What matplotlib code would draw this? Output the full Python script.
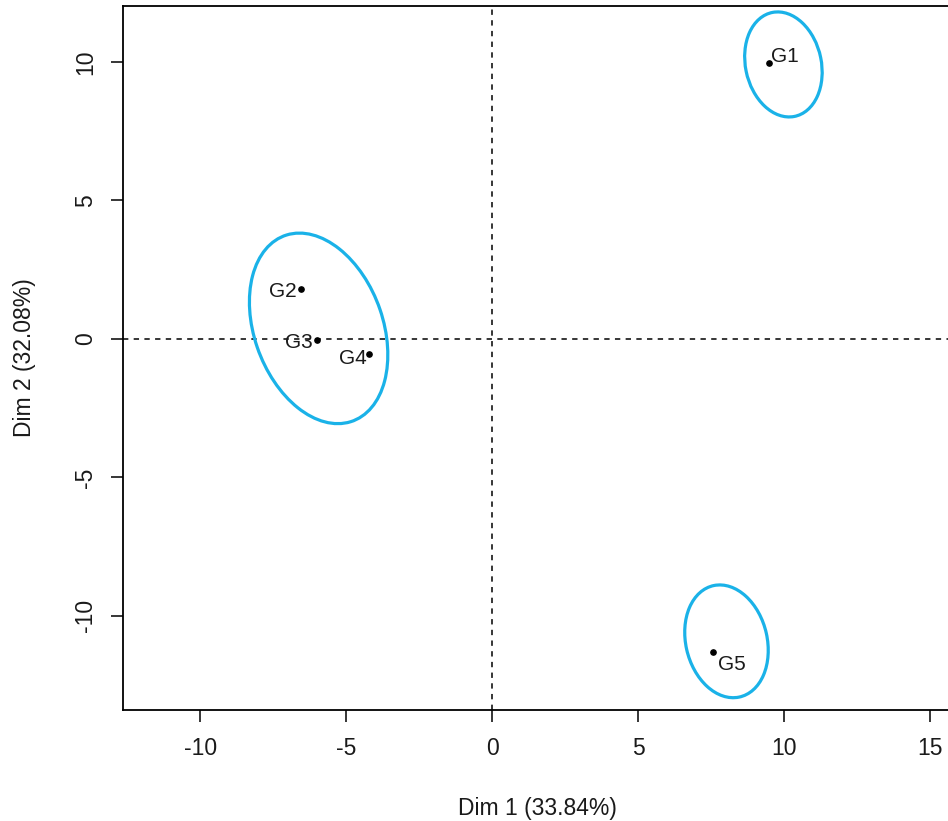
import numpy as np
import matplotlib
matplotlib.use('Agg')
import matplotlib.pyplot as plt
from matplotlib.patches import Ellipse

plt.rcParams['font.family'] = ['Liberation Sans', 'DejaVu Sans']
plt.rcParams['axes.unicode_minus'] = False

# individuals (Dim 1, Dim 2)
labels = ['G1', 'G2', 'G3', 'G4', 'G5']
dim1 = [9.49, -6.54, -5.99, -4.21, 7.57]
dim2 = [9.96, 1.81, -0.04, -0.54, -11.3]

# confidence ellipses: centre, full width/height, rotation (deg)
ell_x = [9.98, -5.94, 8.03]
ell_y = [9.91, 0.38, -10.92]
ell_w = [2.60, 4.42, 2.79]
ell_h = [3.83, 7.09, 4.12]
ell_ang = [11, 18, 12]

xticks = [-10, -5, 0, 5, 10, 15]
yticks = [-10, -5, 0, 5, 10]

# where each label sits relative to its point (offset in points, ha, va)
label_pos = [(1.5, 0.5, 'left', 'baseline'),
             (-3, -2, 'right', 'center'),
             (-3.5, -2, 'right', 'center'),
             (-2, -3, 'right', 'center'),
             (3.5, -2, 'left', 'top')]

fig = plt.figure(figsize=(9.48, 8.21), dpi=100)
ax = fig.add_axes([123/948, 1 - 710/821, 828/948, 704/821])

for cx, cy, w, h, a in zip(ell_x, ell_y, ell_w, ell_h, ell_ang):
    ax.add_patch(Ellipse((cx, cy), w, h, angle=a, fill=False,
                         edgecolor='#1AB2E8', linewidth=2.3, zorder=2))

ax.axhline(0, color='black', linewidth=1.1, linestyle=(0, (3.5, 3.5)), zorder=1)
ax.axvline(0, color='black', linewidth=1.1, linestyle=(0, (3.5, 3.5)), zorder=1)

ax.plot(dim1, dim2, 'o', color='black', markersize=3.8, zorder=3)
for lab, x, y, (dx, dy, ha, va) in zip(labels, dim1, dim2, label_pos):
    ax.annotate(lab, (x, y), xytext=(dx, dy), textcoords='offset points',
                ha=ha, va=va, fontsize=15, color='#1a1a1a')

ax.set_xlim(-12.64, 15.72)
ax.set_ylim(-13.4, 12.02)
ax.set_xticks(xticks)
ax.set_yticks(yticks)
ax.tick_params(axis='both', direction='out', length=8.5, width=1.1,
               labelsize=16.5, colors='black', labelcolor='#1a1a1a')
ax.tick_params(axis='x', pad=11)
ax.tick_params(axis='y', pad=10)
for t in ax.get_yticklabels():
    t.set_rotation(90)
    t.set_va('center')

for s in ax.spines.values():
    s.set_linewidth(1.3)
ax.spines['right'].set_visible(False)

ax.set_xlabel('Dim 1 (33.84%)', fontsize=16.5, color='#1a1a1a')
ax.set_ylabel('Dim 2 (32.08%)', fontsize=16.5, color='#1a1a1a')
ax.xaxis.set_label_coords(0.5, -0.123)
ax.yaxis.set_label_coords(-0.105, 0.5)

plt.savefig('out.png', dpi=100)
